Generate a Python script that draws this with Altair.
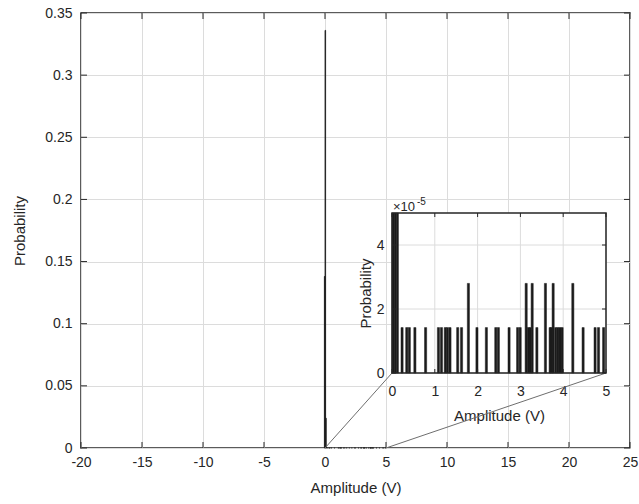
import altair as alt
import pandas as pd

# ---------------- data ----------------
x_ticks = [-20, -15, -10, -5, 0, 5, 10, 15, 20, 25]
y_ticks = [0, 0.05, 0.1, 0.15, 0.2, 0.25, 0.3, 0.35]
x_domain = [-20, 25]
y_domain = [0, 0.35]

inset_x_domain = [0, 5]
inset_y_domain = [0, 5e-5]
inset_x_ticks = [0, 1, 2, 3, 4, 5]
inset_y_ticks = [0, 2e-5, 4e-5]
inset_exponent_base = "×10"
inset_exponent = "-5"

bin_width = 0.05
bin_left = [-0.05, 0.00, 0.05, 0.10,
            0.21, 0.32, 0.38, 0.51, 0.76, 1.06, 1.13, 1.22, 1.27, 1.33,
            1.51, 1.60, 1.76, 1.96, 2.18, 2.40, 2.46, 2.71, 2.91, 2.97,
            3.11, 3.16, 3.20, 3.25, 3.36, 3.56, 3.67, 3.70, 3.74, 3.80,
            3.85, 3.90, 3.95, 4.20, 4.44, 4.72, 4.80, 4.92]
prob = [0.138, 0.336, 0.024, 0.0005,
        1.42e-5, 1.42e-5, 1.42e-5, 1.42e-5, 1.42e-5, 1.42e-5, 1.42e-5, 1.42e-5, 1.42e-5, 1.42e-5,
        1.42e-5, 1.42e-5, 2.80e-5, 1.42e-5, 1.42e-5, 1.42e-5, 1.42e-5, 1.42e-5, 1.42e-5, 1.42e-5,
        2.80e-5, 1.42e-5, 1.42e-5, 2.80e-5, 1.42e-5, 2.80e-5, 1.42e-5, 1.42e-5, 2.80e-5, 1.42e-5,
        1.42e-5, 1.42e-5, 1.42e-5, 2.80e-5, 1.42e-5, 1.42e-5, 1.42e-5, 1.42e-5]

# ---------------- layout / style ----------------
W, H = 549, 435
INSET_X0, INSET_X1, INSET_Y0, INSET_Y1 = 311, 525, 200, 360
TICK = 6
ITICK = 4
FONT = "Liberation Sans"
TXT = "#262626"
GRID = "#dcdcdc"
FRAME = "#262626"
BAR = "#1c1c1c"

df = pd.DataFrame({"left": bin_left, "prob": prob})
hist = alt.Chart(df).transform_calculate(right=f"datum.left + {bin_width}")


def mxs():
    return alt.Scale(domain=x_domain, nice=False, zero=False)


def mys():
    return alt.Scale(domain=y_domain, nice=False, zero=False)


def ixs():
    return alt.Scale(domain=inset_x_domain, range=[INSET_X0, INSET_X1], nice=False, zero=False)


def iys():
    return alt.Scale(domain=inset_y_domain, range=[INSET_Y1, INSET_Y0], nice=False, zero=False, clamp=True)


main_bars = hist.mark_rect(color=BAR, stroke=BAR, strokeWidth=0.8).encode(
    x=alt.X("left:Q", scale=mxs(),
            axis=alt.Axis(values=x_ticks, labelExpr="toString(datum.value)",
                          title="Amplitude (V)", grid=True, gridColor=GRID,
                          domain=False, ticks=False, labelFlush=False,
                          labelPadding=7, titlePadding=11, orient="bottom")),
    x2="right:Q",
    y=alt.Y("prob:Q", scale=mys(),
            axis=alt.Axis(values=y_ticks, labelExpr="toString(datum.value)",
                          title="Probability", grid=True, gridColor=GRID,
                          domain=False, ticks=False, labelFlush=False,
                          labelPadding=9, titlePadding=17, orient="left")),
    y2=alt.datum(0),
)

xt = alt.Chart(pd.DataFrame({"v": x_ticks}))
yt = alt.Chart(pd.DataFrame({"v": y_ticks}))
mx_b = xt.mark_rule(color=FRAME).encode(x=alt.X("v:Q", scale=mxs(), axis=None),
                                        y=alt.value(H), y2=alt.value(H - TICK))
mx_t = xt.mark_rule(color=FRAME).encode(x=alt.X("v:Q", scale=mxs(), axis=None),
                                        y=alt.value(0), y2=alt.value(TICK))
my_l = yt.mark_rule(color=FRAME).encode(y=alt.Y("v:Q", scale=mys(), axis=None),
                                        x=alt.value(0), x2=alt.value(TICK))
my_r = yt.mark_rule(color=FRAME).encode(y=alt.Y("v:Q", scale=mys(), axis=None),
                                        x=alt.value(W), x2=alt.value(W - TICK))

conn1 = alt.Chart(pd.DataFrame({"a": [inset_x_domain[0]], "p": [0]})).mark_rule(
    color="#6e6e6e", strokeWidth=1).encode(
    x=alt.X("a:Q", scale=mxs(), axis=None), y=alt.Y("p:Q", scale=mys(), axis=None),
    x2=alt.value(INSET_X0), y2=alt.value(INSET_Y1))
conn2 = alt.Chart(pd.DataFrame({"a": [inset_x_domain[1]], "p": [0]})).mark_rule(
    color="#6e6e6e", strokeWidth=1).encode(
    x=alt.X("a:Q", scale=mxs(), axis=None), y=alt.Y("p:Q", scale=mys(), axis=None),
    x2=alt.value(INSET_X1), y2=alt.value(INSET_Y1))

# ---------------- inset ----------------
box = alt.Chart(pd.DataFrame({"x0": [inset_x_domain[0]], "x1": [inset_x_domain[1]],
                              "y0": [inset_y_domain[0]], "y1": [inset_y_domain[1]]}))
ins_bg = box.mark_rect(fill="white").encode(
    x=alt.X("x0:Q", scale=ixs(),
            axis=alt.Axis(values=inset_x_ticks, title="Amplitude (V)", orient="bottom",
                          offset=-(H - INSET_Y1), grid=False, domain=False, ticks=False,
                          labelFlush=False, labelPadding=11, titlePadding=10,
                          labelExpr="toString(datum.value)")),
    x2="x1:Q",
    y=alt.Y("y0:Q", scale=iys(),
            axis=alt.Axis(values=inset_y_ticks, title="Probability", orient="left",
                          offset=-INSET_X0, grid=False, domain=False, ticks=False,
                          labelFlush=False, labelPadding=8, titlePadding=3,
                          labelExpr="format(datum.value * 100000, '.0f')")),
    y2="y1:Q",
)
ixt = alt.Chart(pd.DataFrame({"v": inset_x_ticks}))
iyt = alt.Chart(pd.DataFrame({"v": inset_y_ticks}))
igx = ixt.mark_rule(color=GRID).encode(x=alt.X("v:Q", scale=ixs(), axis=None),
                                       y=alt.value(INSET_Y1), y2=alt.value(INSET_Y0))
igy = iyt.mark_rule(color=GRID).encode(y=alt.Y("v:Q", scale=iys(), axis=None),
                                       x=alt.value(INSET_X0), x2=alt.value(INSET_X1))
ins_bars = hist.transform_filter(
    f"datum.left >= {inset_x_domain[0]} && datum.right <= {inset_x_domain[1]}"
).mark_rect(color=BAR, stroke=BAR, strokeWidth=0.5).encode(
    x=alt.X("left:Q", scale=ixs(), axis=None), x2="right:Q",
    y=alt.Y("prob:Q", scale=iys(), axis=None), y2=alt.datum(0),
)
ix_b = ixt.mark_rule(color=FRAME).encode(x=alt.X("v:Q", scale=ixs(), axis=None),
                                         y=alt.value(INSET_Y1), y2=alt.value(INSET_Y1 - ITICK))
ix_t = ixt.mark_rule(color=FRAME).encode(x=alt.X("v:Q", scale=ixs(), axis=None),
                                         y=alt.value(INSET_Y0), y2=alt.value(INSET_Y0 + ITICK))
iy_l = iyt.mark_rule(color=FRAME).encode(y=alt.Y("v:Q", scale=iys(), axis=None),
                                         x=alt.value(INSET_X0), x2=alt.value(INSET_X0 + ITICK))
iy_r = iyt.mark_rule(color=FRAME).encode(y=alt.Y("v:Q", scale=iys(), axis=None),
                                         x=alt.value(INSET_X1), x2=alt.value(INSET_X1 - ITICK))
ins_frame = box.mark_rect(fillOpacity=0, stroke=FRAME, strokeWidth=1.5).encode(
    x=alt.X("x0:Q", scale=ixs(), axis=None), x2="x1:Q",
    y=alt.Y("y0:Q", scale=iys(), axis=None), y2="y1:Q",
)
exp_base = alt.Chart(pd.DataFrame({"t": [inset_exponent_base]})).mark_text(
    align="left", baseline="alphabetic", font=FONT, fontSize=13, color=TXT).encode(
    text="t:N", x=alt.value(INSET_X0 + 1), y=alt.value(INSET_Y0 - 2))
exp_pow = alt.Chart(pd.DataFrame({"t": [inset_exponent]})).mark_text(
    align="left", baseline="alphabetic", font=FONT, fontSize=10, color=TXT).encode(
    text="t:N", x=alt.value(INSET_X0 + 25), y=alt.value(INSET_Y0 - 8))

chart = alt.layer(
    main_bars, mx_b, mx_t, my_l, my_r, conn1, conn2,
    ins_bg, igx, igy, ins_bars, ix_b, ix_t, iy_l, iy_r, ins_frame, exp_base, exp_pow,
).resolve_scale(x="independent", y="independent").properties(
    width=W, height=H,
    padding={"left": 81, "top": 13, "right": 9, "bottom": 56},
    autosize=alt.AutoSizeParams(type="none"),
).configure_view(stroke=FRAME, strokeWidth=1.5).configure_axis(
    labelFont=FONT, titleFont=FONT, labelColor=TXT, titleColor=TXT,
    labelFontSize=14, titleFontSize=15, titleFontWeight="normal",
)

chart.save("out.html", embed_options={"renderer": "svg", "actions": False})
